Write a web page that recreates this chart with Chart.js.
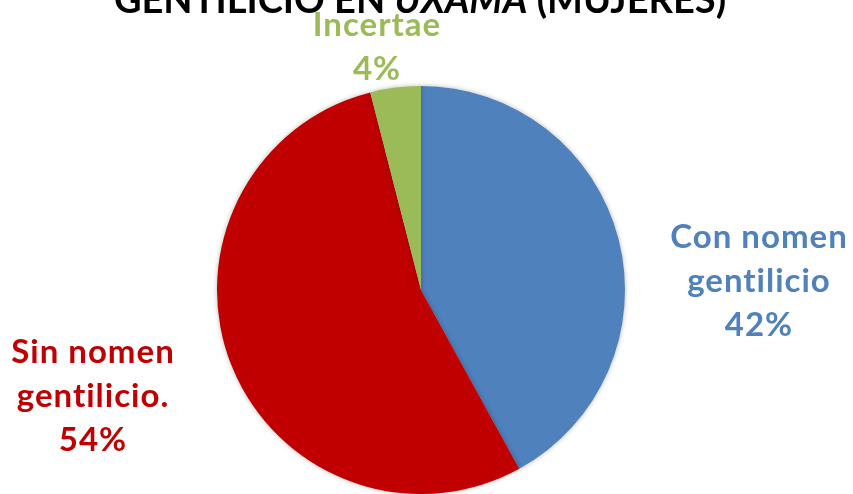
<!DOCTYPE html>
<html>
<head>
<meta charset="utf-8">
<script src="https://cdn.jsdelivr.net/npm/chart.js@4"></script>
<style>
  html, body { margin: 0; padding: 0; background: #ffffff; }
  #wrap { width: 853px; height: 494px; position: relative; }
</style>
</head>
<body>
<div id="wrap"><canvas id="pieChart"></canvas></div>
<script>
// Data
const categories = ['Con nomen gentilicio', 'Sin nomen gentilicio.', 'Incertae'];
const shares = [42, 54, 4];
const labelLines = [
    ['Con nomen', 'gentilicio'],
    ['Sin nomen', 'gentilicio.'],
    ['Incertae']
];
const sliceColors = ['#4F81BD', '#C00000', '#9BBB59'];

const FONT = 'Lato, "Open Sans", sans-serif';

// Where each slice's label block is centred (x, y of first line)
const labelSpots = [
    { x: 759, y: 237 },
    { x: 93, y: 352 },
    { x: 377, y: 25 }
];
const lineGap = 44;

// Soft shadow round the pie
const pieShadow = {
    id: 'pieShadow',
    beforeDatasetDraw(chart) {
        const ctx = chart.ctx;
        ctx.save();
        ctx.shadowColor = 'rgba(0,0,0,0.28)';
        ctx.shadowBlur = 5;
    },
    afterDatasetDraw(chart) {
        chart.ctx.restore();
    }
};

// Title with the italic town name
const titleText = {
    id: 'titleText',
    afterDraw(chart) {
        const ctx = chart.ctx;
        const parts = [
            { t: 'GENTILICIO EN ', f: 'bold 38px ' + FONT },
            { t: 'UXAMA', f: 'italic bold 38px ' + FONT },
            { t: ' (MUJERES)', f: 'bold 38px ' + FONT }
        ];
        let total = 0;
        parts.forEach(p => { ctx.font = p.f; p.w = ctx.measureText(p.t).width; total += p.w; });
        let x = 420 - total / 2;
        ctx.save();
        ctx.fillStyle = '#000000';
        ctx.textBaseline = 'alphabetic';
        ctx.textAlign = 'left';
        parts.forEach(p => { ctx.font = p.f; ctx.fillText(p.t, x, 13); x += p.w; });
        ctx.restore();
    }
};

// Category name and percentage beside each slice
const sliceLabels = {
    id: 'sliceLabels',
    afterDraw(chart) {
        const ctx = chart.ctx;
        const data = chart.data.datasets[0].data;
        const sum = data.reduce((a, b) => a + b, 0);
        ctx.save();
        ctx.font = 'bold 33px ' + FONT;
        ctx.letterSpacing = '1px';
        ctx.textAlign = 'center';
        ctx.textBaseline = 'middle';
        data.forEach((v, i) => {
            const spot = labelSpots[i];
            const lines = labelLines[i].concat([Math.round(v / sum * 100) + '%']);
            ctx.fillStyle = sliceColors[i];
            lines.forEach((ln, k) => ctx.fillText(ln, spot.x, spot.y + k * lineGap));
        });
        ctx.restore();
    }
};

document.addEventListener('DOMContentLoaded', () => {
    const ctx = document.getElementById('pieChart').getContext('2d');
    new Chart(ctx, {
        type: 'pie',
        data: {
            labels: categories,
            datasets: [{
                data: shares,
                backgroundColor: sliceColors,
                borderWidth: 0
            }]
        },
        options: {
            responsive: true,
            maintainAspectRatio: false,
            animation: false,
            layout: { padding: { top: 86, bottom: 0, left: 217, right: 228 } },
            plugins: {
                legend: { display: false },
                tooltip: { enabled: false },
                title: { display: false }
            }
        },
        plugins: [pieShadow, titleText, sliceLabels]
    });
});
</script>
</body>
</html>
